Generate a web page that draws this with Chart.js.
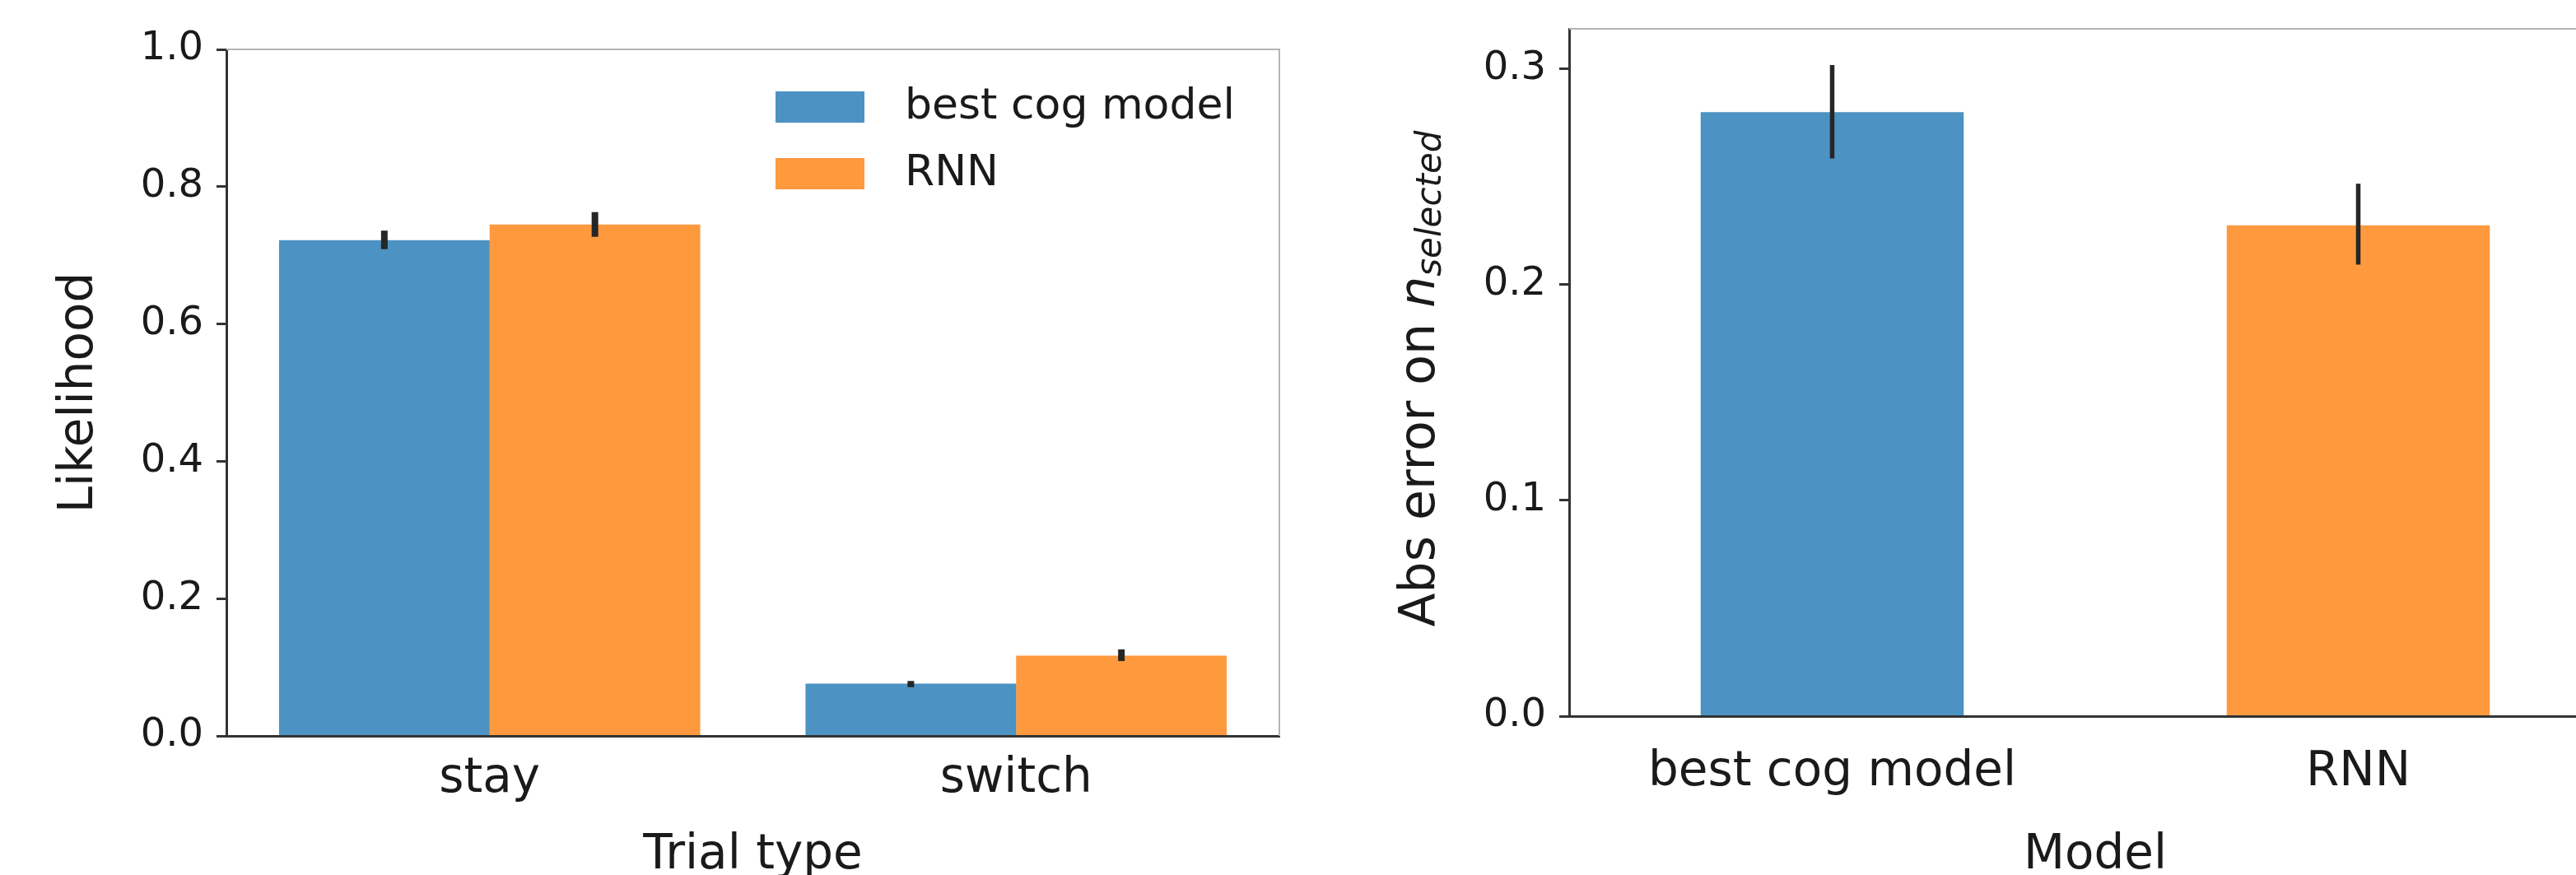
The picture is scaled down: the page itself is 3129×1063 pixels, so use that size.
<!DOCTYPE html>
<html>
<head>
<meta charset="utf-8">
<title>Likelihood / Abs error</title>
<script src="https://cdn.jsdelivr.net/npm/chart.js@4.4.1/dist/chart.umd.min.js"></script>
<style>
    html, body { margin: 0; padding: 0; background: #fff; overflow: hidden; }
    body { width: 3129px; height: 1063px; position: relative; }
    #grafico-1 { position: absolute; left: 0; top: 0; }
    #grafico-2 { position: absolute; left: 1600px; top: 0; }
</style>
</head>
<body>
<canvas id="grafico-1" width="1600" height="1063"></canvas>
<canvas id="grafico-2" width="1620" height="1063"></canvas>
<script>
// left panel: likelihood per trial type
const trialTypes = ["stay", "switch"];
const seriesNames = ["best cog model", "RNN"];
const cogLikelihood = [0.722, 0.076];
const cogLow = [0.709, 0.071];
const cogHigh = [0.736, 0.080];
const rnnLikelihood = [0.745, 0.117];
const rnnLow = [0.727, 0.109];
const rnnHigh = [0.763, 0.126];
const likelihoodTicks = [0, 0.2, 0.4, 0.6, 0.8, 1.0];

// right panel: abs error on n_selected per model
const models = ["best cog model", "RNN"];
const absError = [0.280, 0.2275];
const absErrorLow = [0.2585, 0.2093];
const absErrorHigh = [0.3018, 0.2468];
const absErrorTicks = [0, 0.1, 0.2, 0.3];

const BLUE = "rgba(31, 119, 180, 0.8)";
const ORANGE = "rgba(255, 127, 14, 0.8)";
const TEXT = "#1a1a1a";
const SPINE = "#333333";
const FONT = '"DejaVu Sans", sans-serif';

Chart.defaults.font.family = FONT;
Chart.defaults.color = TEXT;
Chart.defaults.animation = false;

// error bars, drawn from each bar's own x and the y scale
const errorBars = {
    id: "errorBars",
    afterDatasetsDraw(chart, args, opts) {
        const ctx = chart.ctx;
        const y = chart.scales.y;
        ctx.save();
        ctx.strokeStyle = "#262626";
        ctx.lineWidth = opts.width || 6;
        chart.data.datasets.forEach((ds, i) => {
            const meta = chart.getDatasetMeta(i);
            meta.data.forEach((bar, j) => {
                ctx.beginPath();
                ctx.moveTo(bar.x, y.getPixelForValue(ds.errLow[j]));
                ctx.lineTo(bar.x, y.getPixelForValue(ds.errHigh[j]));
                ctx.stroke();
            });
        });
        ctx.restore();
    }
};

// light top / right spines like matplotlib
const frame = {
    id: "frame",
    afterDraw(chart) {
        const ctx = chart.ctx;
        const a = chart.chartArea;
        ctx.save();
        ctx.strokeStyle = "#b4b4b4";
        ctx.lineWidth = 2;
        ctx.beginPath();
        ctx.moveTo(a.left, a.top);
        ctx.lineTo(a.right, a.top);
        ctx.lineTo(a.right, a.bottom);
        ctx.stroke();
        ctx.restore();
    }
};

// legend in the upper right of the left panel
const boxLegend = {
    id: "boxLegend",
    afterDraw(chart) {
        if (!chart.options.plugins.boxLegend) return;
        const ctx = chart.ctx;
        const a = chart.chartArea;
        const x0 = a.right - 612;
        ctx.save();
        ctx.font = `52px ${FONT}`;
        ctx.textBaseline = "middle";
        chart.data.datasets.forEach((ds, i) => {
            const cy = a.top + 70 + i * 81;
            ctx.fillStyle = ds.backgroundColor;
            ctx.fillRect(x0, cy - 19, 108, 38);
            ctx.fillStyle = TEXT;
            ctx.fillText(ds.label, x0 + 157, cy);
        });
        ctx.restore();
    }
};

// y title with italic n and subscript "selected"
const absErrorTitle = {
    id: "absErrorTitle",
    afterDraw(chart) {
        if (!chart.options.plugins.absErrorTitle) return;
        const ctx = chart.ctx;
        const a = chart.chartArea;
        ctx.save();
        ctx.fillStyle = TEXT;
        ctx.textBaseline = "alphabetic";
        ctx.font = `60px ${FONT}`;
        const w1 = ctx.measureText("Abs error on ").width;
        ctx.font = `italic 60px ${FONT}`;
        const w2 = ctx.measureText("n").width;
        ctx.font = `italic 42px ${FONT}`;
        const w3 = ctx.measureText("selected").width;
        const total = w1 + w2 + w3;
        ctx.translate(a.left - 164, 460 + total / 2);
        ctx.rotate(-Math.PI / 2);
        ctx.font = `60px ${FONT}`;
        ctx.fillText("Abs error on ", 0, 0);
        ctx.font = `italic 60px ${FONT}`;
        ctx.fillText("n", w1, 0);
        ctx.font = `italic 42px ${FONT}`;
        ctx.fillText("selected", w1 + w2, 8);
        ctx.restore();
    }
};

function yAxis(tickList, max, width, title) {
    return {
        min: 0,
        max: max,
        afterBuildTicks: scale => { scale.ticks = tickList.map(v => ({ value: v })); },
        afterFit: scale => {
            scale.width = width;
            // the plot box is set by the layout padding, not by the label overflow
            scale.paddingTop = 0;
            scale.paddingBottom = 0;
        },
        ticks: {
            font: { size: 48 },
            color: TEXT,
            padding: 16,
            callback: v => Number(v).toFixed(1)
        },
        grid: {
            display: true,
            drawOnChartArea: false,
            drawTicks: true,
            tickLength: 12,
            tickWidth: 3,
            tickColor: SPINE
        },
        border: { display: true, color: SPINE, width: 3, z: 1 },
        title: title
    };
}

function xAxis(height, pad, titleText) {
    return {
        afterFit: scale => {
            scale.height = height;
            scale.paddingLeft = 0;
            scale.paddingRight = 0;
        },
        ticks: { font: { size: 58 }, color: TEXT, padding: pad },
        grid: { display: false, drawTicks: false },
        border: { display: true, color: SPINE, width: 3, z: 1 },
        title: {
            display: true,
            text: titleText,
            font: { size: 58 },
            color: TEXT,
            padding: { top: 0, bottom: -12 }
        }
    };
}

new Chart(document.getElementById("grafico-1"), {
    type: "bar",
    data: {
        labels: trialTypes,
        datasets: [
            { label: seriesNames[0], data: cogLikelihood, errLow: cogLow, errHigh: cogHigh, backgroundColor: BLUE },
            { label: seriesNames[1], data: rnnLikelihood, errLow: rnnLow, errHigh: rnnHigh, backgroundColor: ORANGE }
        ]
    },
    options: {
        responsive: false,
        devicePixelRatio: 1,
        layout: { padding: { top: 60, right: 46, left: 0, bottom: 0 } },
        datasets: { bar: { categoryPercentage: 0.8, barPercentage: 1.0, borderWidth: 0 } },
        scales: {
            x: xAxis(169, 18, "Trial type"),
            y: yAxis(likelihoodTicks, 1.0, 275, {
                display: true,
                text: "Likelihood",
                font: { size: 58 },
                color: TEXT,
                padding: { top: 62, bottom: 0 }
            })
        },
        plugins: {
            legend: { display: false },
            tooltip: { enabled: false },
            errorBars: { width: 8 },
            boxLegend: true
        }
    },
    plugins: [errorBars, frame, boxLegend]
});

new Chart(document.getElementById("grafico-2"), {
    type: "bar",
    data: {
        labels: models,
        datasets: [
            { label: "Abs error", data: absError, errLow: absErrorLow, errHigh: absErrorHigh, backgroundColor: [BLUE, ORANGE] }
        ]
    },
    options: {
        responsive: false,
        devicePixelRatio: 1,
        layout: { padding: { top: 35, right: 36, left: 0, bottom: 0 } },
        datasets: { bar: { categoryPercentage: 0.5, barPercentage: 1.0, borderWidth: 0 } },
        scales: {
            x: xAxis(193, 34, "Model"),
            y: yAxis(absErrorTicks, 0.3186, 306, { display: false })
        },
        plugins: {
            legend: { display: false },
            tooltip: { enabled: false },
            errorBars: { width: 5.5 },
            absErrorTitle: true
        }
    },
    plugins: [errorBars, frame, absErrorTitle]
});
</script>
</body>
</html>
